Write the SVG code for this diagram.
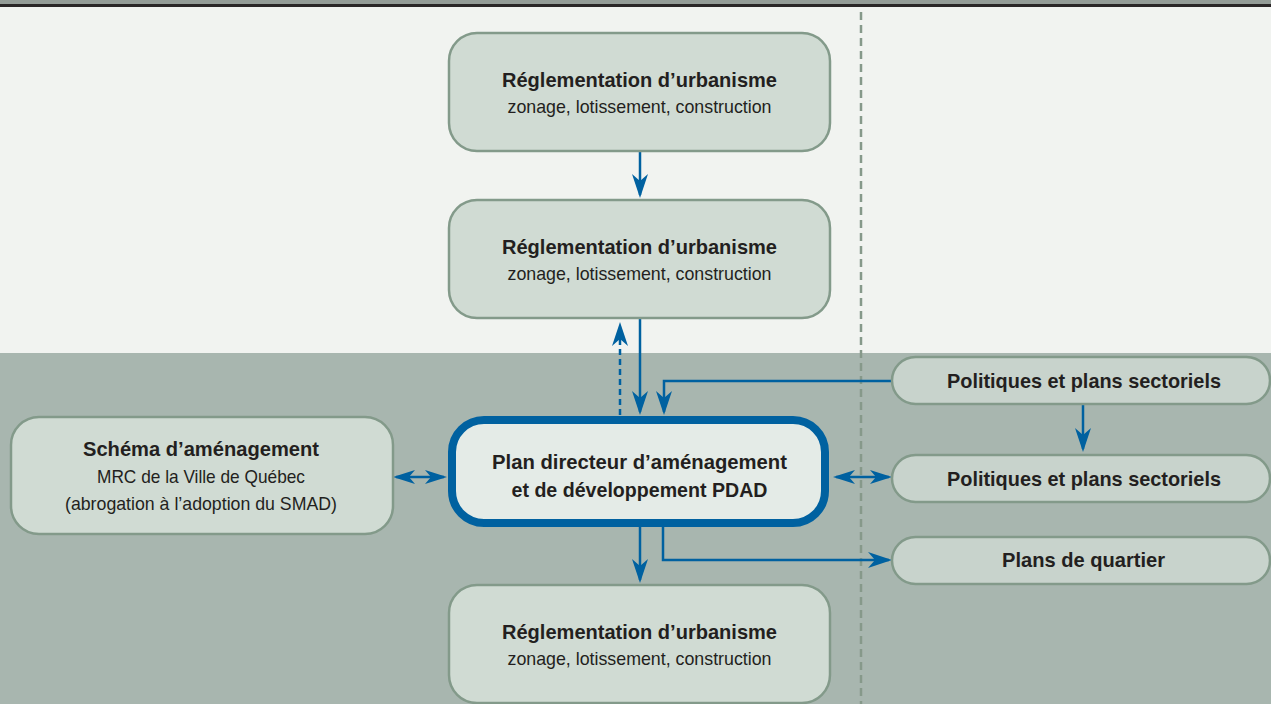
<svg xmlns="http://www.w3.org/2000/svg" width="1271" height="704" viewBox="0 0 1271 704">
<style>
.box{fill:#d0dbd3;stroke:#839a8a;stroke-width:2.5}
.pill{fill:#c8d3cc;stroke:#839a8a;stroke-width:2.5}
.main{fill:#e4ebe7;stroke:#0061a0;stroke-width:8}
text{font-family:"Liberation Sans Narrow","Liberation Sans",Arial,sans-serif;fill:#231f20;text-anchor:middle}
.t{font-size:21px;font-weight:bold}
.s{font-size:18.5px}
.c{fill:none;stroke:#0061a0;stroke-width:2.5}
.d{stroke-dasharray:6 4}
</style>
<defs>
<marker id="ah" markerUnits="userSpaceOnUse" viewBox="-24 -9 28 18" refX="0" refY="0" markerWidth="28" markerHeight="18" orient="auto-start-reverse">
<path d="M3,0 L-21,-8 L-14,0 L-21,8 Z" fill="#0061a0"/>
</marker>
<marker id="ahs" markerUnits="userSpaceOnUse" viewBox="-24 -9 28 18" refX="0" refY="0" markerWidth="28" markerHeight="18" orient="auto-start-reverse">
<path d="M3,0 L-19,-7 L-13,0 L-19,7 Z" fill="#0061a0"/>
</marker>
</defs>
<rect x="0" y="0" width="1271" height="704" fill="#f1f3f0"/>
<rect x="0" y="353" width="1271" height="351" fill="#a8b6af"/>
<rect x="0" y="0" width="1271" height="4" fill="#949c97"/>
<rect x="0" y="4" width="1271" height="3" fill="#2a2627"/>
<line x1="861" y1="12" x2="861" y2="704" stroke="#86998a" stroke-width="2.5" stroke-dasharray="8 5"/>

<g id="connectors">
<path class="c" d="M640,151 V195" marker-end="url(#ah)"/>
<path class="c" d="M640,318 V412" marker-end="url(#ah)"/>
<path class="c d" d="M620,415 V325" marker-end="url(#ah)"/>
<path class="c" d="M892,381 H664 V412" marker-end="url(#ah)"/>
<path class="c" d="M1083,404 V449" marker-end="url(#ah)"/>
<path class="c" d="M396,477 H444" marker-start="url(#ahs)" marker-end="url(#ahs)"/>
<path class="c" d="M836,477 H889" marker-start="url(#ahs)" marker-end="url(#ahs)"/>
<path class="c" d="M640,527 V580" marker-end="url(#ah)"/>
<path class="c" d="M663,527 V560 H889" marker-end="url(#ah)"/>
</g>

<g id="reg1">
<rect class="box" x="449" y="33" width="381" height="118" rx="28"/>
<text class="t" x="639.5" y="87" textLength="275" lengthAdjust="spacingAndGlyphs">Réglementation d’urbanisme</text>
<text class="s" x="639.5" y="113" textLength="264" lengthAdjust="spacingAndGlyphs">zonage, lotissement, construction</text>
</g>
<g id="reg2">
<rect class="box" x="449" y="200" width="381" height="118" rx="28"/>
<text class="t" x="639.5" y="254" textLength="275" lengthAdjust="spacingAndGlyphs">Réglementation d’urbanisme</text>
<text class="s" x="639.5" y="280" textLength="264" lengthAdjust="spacingAndGlyphs">zonage, lotissement, construction</text>
</g>
<g id="pdad">
<rect class="main" x="452" y="420" width="373" height="103" rx="32"/>
<text class="t" x="639.5" y="469" textLength="295" lengthAdjust="spacingAndGlyphs">Plan directeur d’aménagement</text>
<text class="t" x="639.5" y="497" textLength="256" lengthAdjust="spacingAndGlyphs">et de développement PDAD</text>
</g>
<g id="schema">
<rect class="box" x="11" y="417" width="382" height="117" rx="28"/>
<text class="t" x="201" y="456" textLength="236" lengthAdjust="spacingAndGlyphs">Schéma d’aménagement</text>
<text class="s" x="201" y="483" textLength="208" lengthAdjust="spacingAndGlyphs">MRC de la Ville de Québec</text>
<text class="s" x="201" y="510" textLength="272" lengthAdjust="spacingAndGlyphs">(abrogation à l’adoption du SMAD)</text>
</g>
<g id="reg3">
<rect class="box" x="449" y="585" width="381" height="118" rx="28"/>
<text class="t" x="639.5" y="639" textLength="275" lengthAdjust="spacingAndGlyphs">Réglementation d’urbanisme</text>
<text class="s" x="639.5" y="665" textLength="264" lengthAdjust="spacingAndGlyphs">zonage, lotissement, construction</text>
</g>
<g id="pol1">
<rect class="pill" x="892" y="357" width="378" height="47" rx="23.5"/>
<text class="t" x="1084" y="388" textLength="274" lengthAdjust="spacingAndGlyphs">Politiques et plans sectoriels</text>
</g>
<g id="pol2">
<rect class="pill" x="892" y="455" width="378" height="47" rx="23.5"/>
<text class="t" x="1084" y="486" textLength="274" lengthAdjust="spacingAndGlyphs">Politiques et plans sectoriels</text>
</g>
<g id="quartier">
<rect class="pill" x="892" y="537" width="378" height="47" rx="23.5"/>
<text class="t" x="1083.5" y="567" textLength="163" lengthAdjust="spacingAndGlyphs">Plans de quartier</text>
</g>
</svg>
